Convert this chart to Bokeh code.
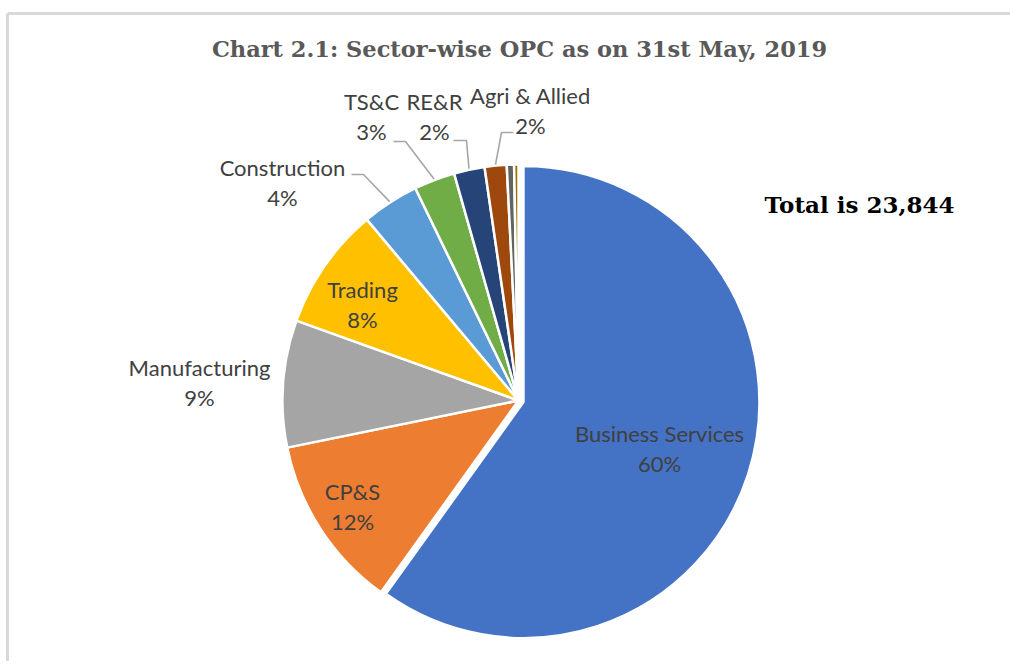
import math
from bokeh.plotting import figure
from bokeh.models import Range1d
from bokeh.core.properties import value
from bokeh.embed import file_html
from bokeh.resources import INLINE

# ---------------- data ----------------
title_text = "Chart 2.1: Sector-wise OPC as on 31st May, 2019"
total_text = "Total is 23,844"
sectors = ["Business Services", "CP&S", "Manufacturing", "Trading", "Construction",
           "TS&C", "RE&R", "Agri & Allied", "Others", "Unclassified"]
counts = [14283, 2837, 2074, 2003, 930, 668, 501, 358, 119, 71]
colors = ["#4472C4", "#ED7D31", "#A5A5A5", "#FFC000", "#5B9BD5",
          "#70AD47", "#264478", "#9E480E", "#636363", "#997300"]
show_label = [True, True, True, True, True, True, True, True, False, False]

# ---------------- layout (screen pixel coords) ----------------
W, H = 1010, 661
def px(X): return X
def py(Y): return H - Y

CX, CY, R = px(518), py(400), 236
EXPLODE = 5.2
LINE_GAP = 29.5
label_pos = {  # centre of the two-line label block
    "Business Services": (659, 448),
    "CP&S": (352, 506),
    "Manufacturing": (199, 382),
    "Trading": (362, 304),
    "Construction": (282, 182),
    "TS&C": (371, 116),
    "RE&R": (434, 116),
    "Agri & Allied": (530, 110),
}
leader_start = {  # start and elbow of leader lines
    "Construction": [(351, 174), (363, 174)],
    "TS&C": [(393, 141), (405, 141)],
    "RE&R": [(453, 140), (466, 140)],
    "Agri & Allied": [(513, 132), (501, 132)],
}

p = figure(width=W, height=H, x_range=Range1d(0, W), y_range=Range1d(0, H),
           output_backend="svg", toolbar_location=None, min_border=0,
           x_axis_type=None, y_axis_type=None)
p.grid.visible = False
p.outline_line_color = None
p.background_fill_color = "white"

# frame lines
p.line([px(7), px(7)], [py(13), 0], line_color="#d9d9d9", line_width=3)
p.line([px(7), W], [py(13), py(13)], line_color="#d9d9d9", line_width=3)

total = sum(counts)
cum = 0
mids = []
for i, (name, c, col) in enumerate(zip(sectors, counts, colors)):
    start = math.pi / 2 - 2 * math.pi * cum / total
    cum += c
    end = math.pi / 2 - 2 * math.pi * cum / total
    mid = (start + end) / 2
    mids.append(mid)
    ox, oy = (EXPLODE * math.cos(mid), EXPLODE * math.sin(mid)) if i == 0 else (0, 0)
    p.wedge(x=[CX + ox], y=[CY + oy], radius=R, start_angle=[start], end_angle=[end],
            direction="clock", fill_color=col, line_color="white", line_width=2.5)

# leader lines
for name, pts in leader_start.items():
    i = sectors.index(name)
    ex = CX + (R + 1) * math.cos(mids[i])
    ey = CY + (R + 1) * math.sin(mids[i])
    xs = [px(pts[0][0]), px(pts[1][0]), ex]
    ys = [py(pts[0][1]), py(pts[1][1]), ey]
    p.line(xs, ys, line_color="#a6a6a6", line_width=1.6)

# data labels
for i, name in enumerate(sectors):
    if not show_label[i]:
        continue
    X, Y = label_pos[name]
    pct = "%d%%" % round(100 * counts[i] / total)
    p.text(x=[px(X), px(X)], y=[py(Y) + LINE_GAP / 2, py(Y) - LINE_GAP / 2], text=[name, pct],
           text_align="center", text_baseline="middle", text_color="#404040",
           text_font=value("Lato"), text_font_size="22px")

# title and total
p.text(x=[px(519)], y=[py(48)], text=[title_text], text_align="center", text_baseline="middle",
       text_color="#595959", text_font=value("DejaVu Serif"), text_font_style="bold",
       text_font_size="22.5px")
p.text(x=[px(859)], y=[py(204)], text=[total_text], text_align="center", text_baseline="middle",
       text_color="#000000", text_font=value("DejaVu Serif"), text_font_style="bold",
       text_font_size="23px")

open("out.html", "w").write(file_html(p, INLINE))
